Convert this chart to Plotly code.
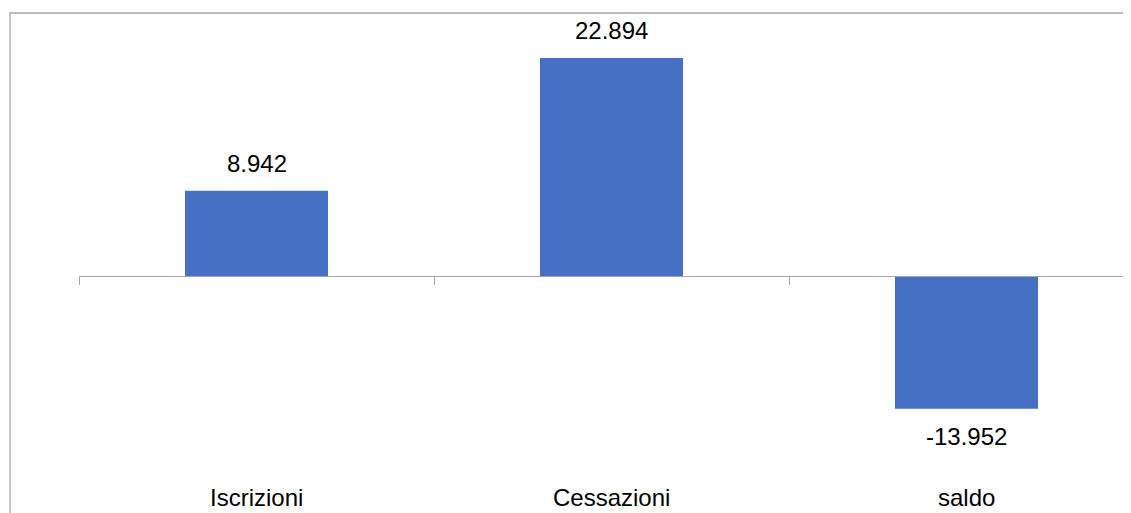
import plotly.graph_objects as go

categories = ["Iscrizioni", "Cessazioni", "saldo"]
values = [8942, 22894, -13952]

# page body has an 8px default margin: figure coordinates are window - 8
OFF = 8
W, H = 1131 - OFF, 513 - OFF
ML, MR, MT, MB = 79 - OFF, 0, 14 - OFF, 33
plot_h = H - MT - MB
plot_w = W - ML - MR
units_per_px = 105.02
zero_px_from_top = (276 - OFF) - MT
ymax = zero_px_from_top * units_per_px
ymin = -(plot_h - zero_px_from_top) * units_per_px
zero_pos = (0 - ymin) / (ymax - ymin)

cat_px = 355.0
xmax = -0.5 + plot_w / cat_px

FONT = "Liberation Sans"
BAR_COLOR = "#4570c3"
GRID = "#a6a6a6"

def fmt(v):
    return f"{v:,}".replace(",", ".")

fig = go.Figure()
fig.add_trace(go.Bar(
    x=categories, y=values,
    marker=dict(color=BAR_COLOR, line=dict(width=0)),
    width=0.403,
    hoverinfo="skip",
))

annotations = []
for c, v in zip(categories, values):
    annotations.append(dict(
        x=c, y=v, xref="x", yref="y", text=fmt(v), showarrow=False,
        yanchor="bottom" if v >= 0 else "top",
        yshift=12 if v >= 0 else -12,
        font=dict(family=FONT, size=24, color="#000000"),
    ))
    annotations.append(dict(
        x=c, y=0, xref="x", yref="paper", text=c, showarrow=False,
        yanchor="top", yshift=-2,
        font=dict(family=FONT, size=24, color="#000000"),
    ))

fig.update_layout(
    width=W, height=H,
    margin=dict(l=ML, r=MR, t=MT, b=MB, pad=0),
    paper_bgcolor="white", plot_bgcolor="white",
    showlegend=False,
    xaxis=dict(
        type="category", range=[-0.5, xmax],
        anchor="free", position=zero_pos,
        showline=True, linecolor=GRID, linewidth=1.3,
        ticks="outside", tickson="boundaries", ticklen=8, tickcolor=GRID, tickwidth=1.3,
        showticklabels=False, showgrid=False, zeroline=False,
    ),
    yaxis=dict(
        range=[ymin, ymax], visible=False, showgrid=False, zeroline=False,
    ),
    annotations=annotations,
    shapes=[dict(
        type="rect", xref="paper", yref="paper",
        x0=(10 - OFF - ML) / plot_w, x1=1.2,
        y0=-0.5, y1=(H - MB - (13 - OFF)) / plot_h,
        line=dict(color=GRID, width=1.3), fillcolor="rgba(0,0,0,0)", layer="below",
    )],
)

fig.write_html("out.html")
